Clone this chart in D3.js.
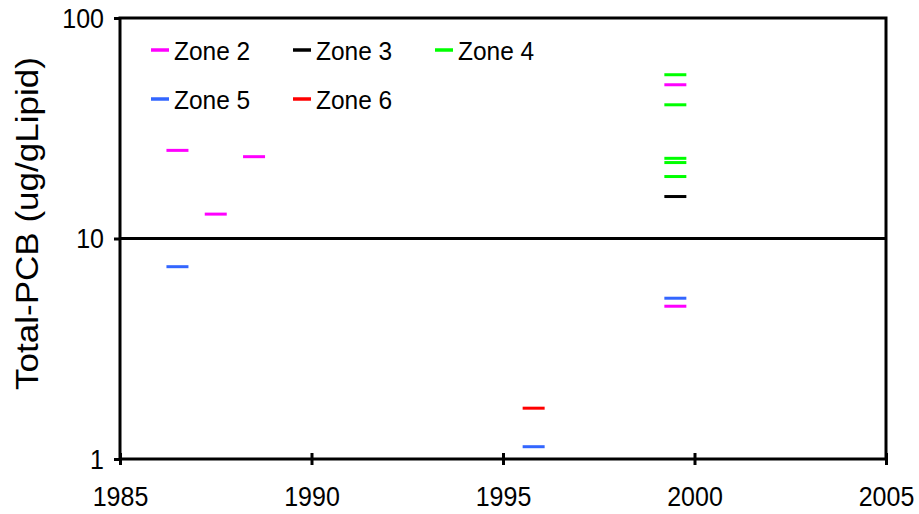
<!DOCTYPE html>
<html><head><meta charset="utf-8">
<script src="https://cdn.jsdelivr.net/npm/d3@7"></script>
<style>body{margin:0;background:#fff;} text{font-family:Arial,"Liberation Sans",sans-serif;fill:#000;}</style>
</head><body>
<svg id="c" width="919" height="514"></svg>
<script>
const seriesNames = ["Zone 2","Zone 3","Zone 4","Zone 5","Zone 6"];
const seriesColors = ["#FF00FF","#000000","#00FF00","#3366FF","#FF0000"];
const zone2Years = [1986.5, 1987.5, 1988.5, 1999.5, 1999.5];
const zone2Values = [25.1, 12.9, 23.5, 49.8, 4.93];
const zone3Years = [1999.5];
const zone3Values = [15.5];
const zone4Years = [1999.5, 1999.5, 1999.5, 1999.5, 1999.5];
const zone4Values = [55.3, 40.4, 23.1, 22.1, 19.1];
const zone5Years = [1986.5, 1995.8, 1999.5];
const zone5Values = [7.45, 1.137, 5.36];
const zone6Years = [1995.8];
const zone6Values = [1.70];
const xTicks = [1985, 1990, 1995, 2000, 2005];
const yTicks = [1, 10, 100];

const allYears = [zone2Years, zone3Years, zone4Years, zone5Years, zone6Years];
const allValues = [zone2Values, zone3Values, zone4Values, zone5Values, zone6Values];

const L = 120, R = 886, T = 18, B = 459;
const FS = "25px", SY = 1.08;
const svg = d3.select("#c");
const x = d3.scaleLinear().domain([1985, 2005]).range([L, R]);
const y = d3.scaleLog().domain([1, 100]).range([B, T]);

// gridline at 10
svg.append("line").attr("x1", L).attr("x2", R).attr("y1", y(10)).attr("y2", y(10))
  .attr("stroke", "#000").attr("stroke-width", 3);

// marks
allYears.forEach((yrs, i) => {
  svg.append("g").selectAll("line").data(yrs.map((d, j) => [d, allValues[i][j]])).join("line")
    .attr("x1", d => x(d[0]) - 11).attr("x2", d => x(d[0]) + 11)
    .attr("y1", d => y(d[1])).attr("y2", d => y(d[1]))
    .attr("stroke", seriesColors[i]).attr("stroke-width", 3);
});

// frame
svg.append("rect").attr("x", L).attr("y", T).attr("width", R - L).attr("height", B - T)
  .attr("fill", "none").attr("stroke", "#000").attr("stroke-width", 3);

// x axis
const xa = svg.append("g").attr("transform", `translate(0,${B})`)
  .call(d3.axisBottom(x).tickValues(xTicks).tickFormat(d3.format("d")).tickSize(5).tickSizeOuter(0));
xa.select(".domain").remove();
xa.selectAll(".tick line").attr("y1", -6).attr("y2", 6).attr("stroke-width", 3);
xa.selectAll(".tick text").attr("y", 0).attr("dy", 0)
  .attr("transform", `translate(0,47) scale(1,${SY})`)
  .style("font-size", FS).style("font-family", "Arial, 'Liberation Sans', sans-serif");

// y axis
const ya = svg.append("g").attr("transform", `translate(${L},0)`)
  .call(d3.axisLeft(y).tickValues(yTicks).tickFormat(d3.format("d")).tickSize(6).tickSizeOuter(0));
ya.select(".domain").remove();
ya.selectAll(".tick line").attr("stroke-width", 3);
ya.selectAll(".tick text").attr("x", 0).attr("dy", 0)
  .attr("transform", `translate(-16,9) scale(1,${SY})`)
  .style("font-size", FS).style("font-family", "Arial, 'Liberation Sans', sans-serif");

// y title
svg.append("text").attr("transform", `translate(38,${(T + B) / 2 - 15}) rotate(-90) scale(1.13,1)`)
  .attr("text-anchor", "middle").style("font-size", "31px").text("Total-PCB (ug/gLipid)");

// legend
const legPos = [[151, 50], [293, 50], [435, 50], [151, 99], [293, 99]];
seriesNames.forEach((n, i) => {
  const [lx, ly] = legPos[i];
  svg.append("line").attr("x1", lx).attr("x2", lx + 18).attr("y1", ly).attr("y2", ly)
    .attr("stroke", seriesColors[i]).attr("stroke-width", 3.5);
  svg.append("text").attr("transform", `translate(${lx + 23},${ly + 9.5}) scale(1,${SY})`)
    .style("font-size", "24.5px").text(n);
});
</script>
</body></html>
